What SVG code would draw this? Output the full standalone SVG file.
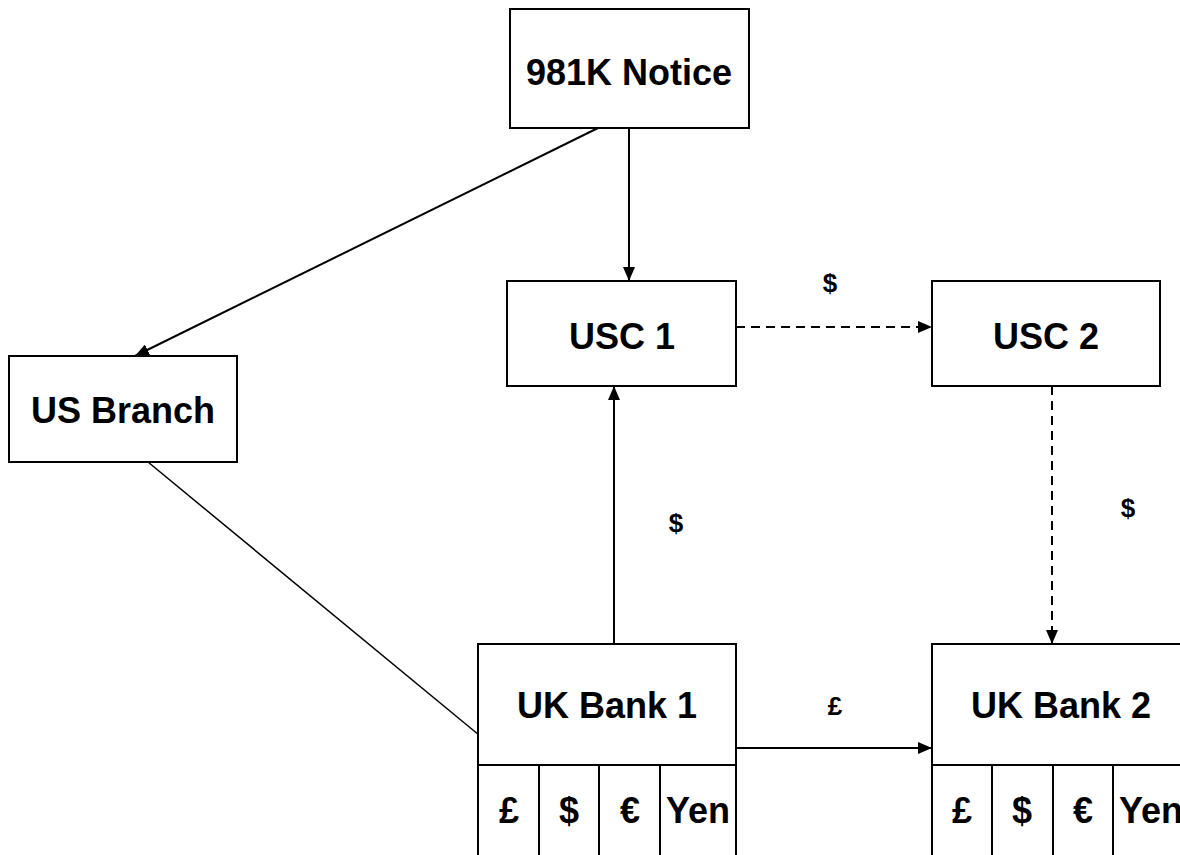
<svg xmlns="http://www.w3.org/2000/svg" width="1180" height="855" viewBox="0 0 1180 855">
<style>
.box{fill:#fff;stroke:#000;stroke-width:2}
.t{font-family:"Liberation Sans",Arial,sans-serif;font-weight:bold;font-size:36px;text-anchor:middle;fill:#000}
.l{font-family:"Liberation Sans",Arial,sans-serif;font-weight:bold;font-size:26px;text-anchor:middle;fill:#000}
.c{fill:none;stroke:#000;stroke-width:2}
</style>
<defs>
<marker id="ah" viewBox="0 0 14 12" refX="14" refY="6" markerWidth="14" markerHeight="12" markerUnits="userSpaceOnUse" orient="auto">
<path d="M0,0 L14,6 L0,12 z" fill="#000"/>
</marker>
</defs>
<rect width="1180" height="855" fill="#fff"/>
<g id="connectors">
<line class="c" x1="629" y1="128" x2="629" y2="281" marker-end="url(#ah)"/>
<line class="c" x1="598" y1="128" x2="135" y2="356" marker-end="url(#ah)"/>
<line class="c" x1="736" y1="327" x2="932" y2="327" stroke-dasharray="9,6" marker-end="url(#ah)"/>
<line class="c" x1="1052" y1="386" x2="1052" y2="644" stroke-dasharray="9,6" marker-end="url(#ah)"/>
<line class="c" x1="614" y1="644" x2="614" y2="386" marker-end="url(#ah)"/>
<line class="c" x1="736" y1="748" x2="932" y2="748" marker-end="url(#ah)"/>
<line x1="148" y1="462" x2="479" y2="735" stroke="#000" stroke-width="1.5"/>
<text class="l" x="830" y="292">$</text>
<text class="l" x="676" y="532">$</text>
<text class="l" x="1128" y="517">$</text>
<text class="l" x="835" y="715">£</text>
</g>
<g id="notice">
<rect class="box" x="510" y="9" width="239" height="119"/>
<text class="t" x="629" y="85">981K Notice</text>
</g>
<g id="usc1">
<rect class="box" x="507" y="281" width="229" height="105"/>
<text class="t" x="622" y="349">USC 1</text>
</g>
<g id="usc2">
<rect class="box" x="932" y="281" width="228" height="105"/>
<text class="t" x="1046" y="349">USC 2</text>
</g>
<g id="usbranch">
<rect class="box" x="9" y="356" width="228" height="106"/>
<text class="t" x="123" y="423">US Branch</text>
</g>
<g id="ukbank1">
<rect class="box" x="478" y="644" width="258" height="121"/>
<text class="t" x="607" y="718">UK Bank 1</text>
<rect class="box" x="478" y="765" width="61" height="95"/>
<rect class="box" x="539" y="765" width="60" height="95"/>
<rect class="box" x="599" y="765" width="61" height="95"/>
<rect class="box" x="660" y="765" width="76" height="95"/>
<text class="t" x="509" y="823">£</text>
<text class="t" x="569" y="823">$</text>
<text class="t" x="630" y="823">€</text>
<text class="t" x="698" y="823">Yen</text>
</g>
<g id="ukbank2">
<rect class="box" x="932" y="644" width="258" height="121"/>
<text class="t" x="1061" y="718">UK Bank 2</text>
<rect class="box" x="932" y="765" width="60" height="95"/>
<rect class="box" x="992" y="765" width="61" height="95"/>
<rect class="box" x="1053" y="765" width="60" height="95"/>
<rect class="box" x="1113" y="765" width="77" height="95"/>
<text class="t" x="962" y="823">£</text>
<text class="t" x="1022" y="823">$</text>
<text class="t" x="1083" y="823">€</text>
<text class="t" x="1151" y="823">Yen</text>
</g>
</svg>
